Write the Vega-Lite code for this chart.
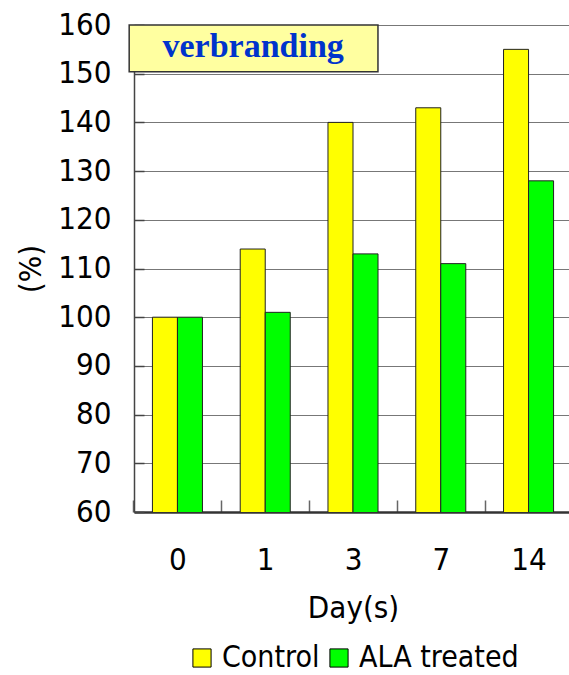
{
  "$schema": "https://vega.github.io/schema/vega-lite/v6.json",
  "width": 438,
  "height": 487,
  "padding": {"left": 15, "top": 9, "right": 0, "bottom": 0},
  "config": {
    "view": {"stroke": null},
    "font": "DejaVu Sans Condensed",
    "axis": {"titleFontWeight": "normal", "labelColor": "#000", "titleColor": "#000"},
    "legend": {"layout": {"bottom": {"anchor": "middle"}}}
  },
  "layer": [
    {
      "data": {
        "values": [
          {"day": "0", "group": "Control", "value": 100},
          {"day": "0", "group": "ALA treated", "value": 100},
          {"day": "1", "group": "Control", "value": 114},
          {"day": "1", "group": "ALA treated", "value": 101},
          {"day": "3", "group": "Control", "value": 140},
          {"day": "3", "group": "ALA treated", "value": 113},
          {"day": "7", "group": "Control", "value": 143},
          {"day": "7", "group": "ALA treated", "value": 111},
          {"day": "14", "group": "Control", "value": 155},
          {"day": "14", "group": "ALA treated", "value": 128}
        ]
      },
      "mark": {"type": "bar", "stroke": "#222", "strokeWidth": 1, "clip": true},
      "encoding": {
        "x": {
          "field": "day", "type": "nominal", "sort": ["0", "1", "3", "7", "14"],
          "scale": {"paddingInner": 0.43, "paddingOuter": 0.21},
          "axis": {
            "labelAngle": 0, "labelFontSize": 31, "labelPadding": 45, "labelOffset": 19,
            "title": "Day(s)", "titleFontSize": 31, "titlePadding": 18,
            "domainColor": "#333", "domainWidth": 2.5,
            "tickColor": "#666", "tickSize": -12, "tickWidth": 1.5,
            "bandPosition": 0, "tickOffset": -19
          }
        },
        "xOffset": {"field": "group", "sort": ["Control", "ALA treated"]},
        "y": {
          "field": "value", "type": "quantitative",
          "scale": {"domain": [60, 160], "nice": false},
          "axis": {
            "values": [60, 70, 80, 90, 100, 110, 120, 130, 140, 150, 160],
            "labelFontSize": 31, "labelPadding": 33,
            "title": "(%)", "titleFontSize": 31, "titlePadding": 10,
            "grid": true, "gridColor": "#777", "gridWidth": 1,
            "domainColor": "#444", "domainWidth": 1.5,
            "tickColor": "#444", "tickSize": -10, "tickWidth": 1.5
          }
        },
        "color": {
          "field": "group", "type": "nominal",
          "scale": {"domain": ["Control", "ALA treated"], "range": ["#FFFF00", "#00FF00"]},
          "legend": {
            "orient": "bottom", "direction": "horizontal", "title": null,
            "symbolType": "square", "symbolSize": 330, "symbolStrokeColor": "#000",
            "symbolStrokeWidth": 1, "symbolOpacity": 1, "labelFontSize": 30, "labelColor": "#000",
            "columnPadding": 4, "labelOffset": 5, "labelLimit": 400, "offset": 20
          }
        }
      }
    },
    {
      "data": {"values": [{"label": "verbranding"}]},
      "mark": {"type": "rect", "fill": "#FFFFA0", "stroke": "#333", "strokeWidth": 1.5},
      "encoding": {
        "x": {"datum": -0.011, "type": "quantitative", "scale": {"domain": [0, 1]}, "axis": null},
        "x2": {"datum": 0.557},
        "y": {"datum": 160, "type": "quantitative"},
        "y2": {"datum": 150.4}
      }
    },
    {
      "data": {"values": [{"label": "verbranding"}]},
      "mark": {"type": "text", "font": "Liberation Serif", "fontWeight": "bold", "fontSize": 34, "color": "#0033CC", "baseline": "middle", "align": "center"},
      "encoding": {
        "text": {"field": "label"},
        "x": {"datum": 0.272, "type": "quantitative", "scale": {"domain": [0, 1]}, "axis": null},
        "y": {"datum": 155.4, "type": "quantitative"}
      }
    }
  ],
  "resolve": {"scale": {"x": "independent"}}
}
